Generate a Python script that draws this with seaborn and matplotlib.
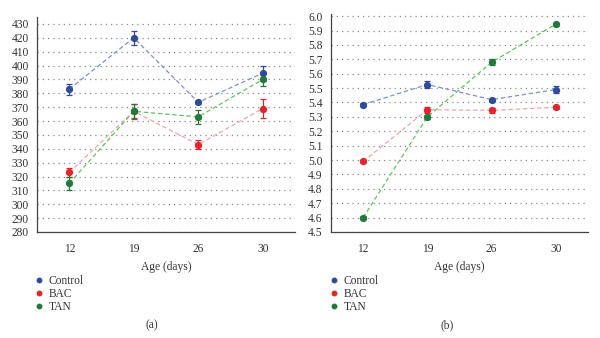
import numpy as np
import pandas as pd
import matplotlib
matplotlib.use("Agg")
import matplotlib.pyplot as plt
import seaborn as sns
from matplotlib.lines import Line2D
from matplotlib.ticker import FormatStrFormatter

sns.set_style("white")
plt.rcParams['font.family'] = ['Liberation Serif', 'DejaVu Serif']

ages = ["12", "19", "26", "30"]
groups = ["Control", "BAC", "TAN"]

# Panel (a)
a_control = [383, 420, 373.5, 394.5]
a_control_err = [4, 5, 1.2, 5.5]
a_bac = [323, 367, 343, 369]
a_bac_err = [3, 5.5, 3, 7]
a_tan = [315, 367, 363, 390]
a_tan_err = [5, 5, 5, 4.5]

# Panel (b)
b_control = [5.385, 5.525, 5.42, 5.49]
b_control_err = [0.012, 0.022, 0.006, 0.022]
b_bac = [4.99, 5.35, 5.345, 5.367]
b_bac_err = [0.01, 0.022, 0.015, 0.01]
b_tan = [4.60, 5.30, 5.68, 5.945]
b_tan_err = [0.008, 0.012, 0.02, 0.01]

marker_colors = {"Control": "#2f4b9f", "BAC": "#e8222a", "TAN": "#1f7a3a"}
line_colors = {"Control": "#7d8fd2", "BAC": "#f3a3a6", "TAN": "#5cc65c"}

fig = plt.figure(figsize=(6.0, 3.38), dpi=100)
W, H = 600, 338

def make_axes(left, right, top, bottom):
    return fig.add_axes([left / W, 1 - bottom / H, (right - left) / W, (bottom - top) / H])

axA = make_axes(37, 295, 17, 232)
axB = make_axes(331, 588, 14, 232)

panels = [
    (axA, [a_control, a_bac, a_tan], [a_control_err, a_bac_err, a_tan_err],
     (280, 435), np.arange(280, 431, 10), "%d", 39, "(a)", 152),
    (axB, [b_control, b_bac, b_tan], [b_control_err, b_bac_err, b_tan_err],
     (4.5, 6.015), np.arange(4.5, 6.001, 0.1), "%.1f", 334, "(b)", 447),
]

for ax, vals, errs, ylim, yticks, fmt, legx, tag, tagx in panels:
    df = pd.DataFrame({
        "age": ages * 3,
        "value": [v for s in vals for v in s],
        "group": [g for g in groups for _ in ages],
    })
    sns.lineplot(data=df, x="age", y="value", hue="group", palette=line_colors,
                 ax=ax, linewidth=0.9, legend=False, zorder=2)
    for line in ax.get_lines():
        line.set_linestyle((0, (3.5, 2.2)))
    for g, v, e in zip(groups, vals, errs):
        ax.errorbar(ages, v, yerr=e, fmt="o", color=marker_colors[g], ms=4.2,
                    elinewidth=0.9, capsize=2.3, capthick=0.9, zorder=3)
    ax.set_xlim(-0.5, 3.5)
    ax.set_ylim(*ylim)
    ax.set_yticks(yticks)
    ax.yaxis.set_major_formatter(FormatStrFormatter(fmt))
    ax.yaxis.grid(True, linestyle=(0, (1, 3.2)), color="#8a8a8a", linewidth=0.9)
    ax.xaxis.grid(False)
    for s in ["top", "right"]:
        ax.spines[s].set_visible(False)
    for s in ["left", "bottom"]:
        ax.spines[s].set_color("#444444")
        ax.spines[s].set_linewidth(0.9)
    ax.tick_params(axis="both", direction="out", length=4, width=0.9, color="#444444",
                   labelsize=8.3, labelcolor="#333333", pad=2)
    ax.tick_params(axis="x", pad=4)
    ax.set_xlabel("Age (days)", fontsize=8.3, color="#333333", labelpad=4)
    ax.set_ylabel("")
    handles = [Line2D([], [], marker="o", linestyle="none", color=marker_colors[g], ms=3.2)
               for g in groups]
    ax.legend(handles, groups, loc="upper left",
              bbox_to_anchor=((legx - 8) / W, 1 - 270 / H), bbox_transform=fig.transFigure,
              frameon=False, fontsize=8.3, handlelength=0.6, handletextpad=0.55,
              labelspacing=0.12, borderaxespad=0, labelcolor="#333333")
    fig.text(tagx / W, 1 - 325 / H, tag, ha="center", va="center", fontsize=8.3, color="#333333")

fig.savefig("out.png", dpi=100)
